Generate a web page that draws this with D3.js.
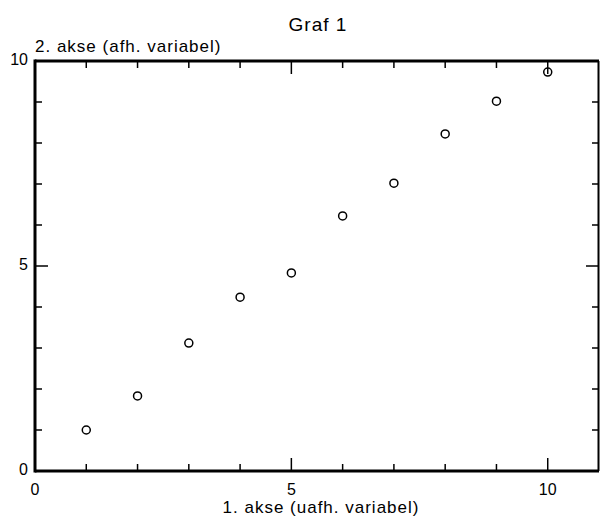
<!DOCTYPE html>
<html>
<head>
<meta charset="utf-8">
<script src="https://cdn.jsdelivr.net/npm/d3@7"></script>
<style>
  body { margin: 0; background: #fff; }
  svg { display: block; font-family: "Liberation Sans", Arial, sans-serif; }
</style>
</head>
<body>
<svg id="chart" width="600" height="516"></svg>
<script>
const xValues = [1, 2, 3, 4, 5, 6, 7, 8, 9, 10]
const yValues = [1.0, 1.83, 3.12, 4.24, 4.83, 6.22, 7.02, 8.22, 9.02, 9.73]
const majorTicks = [0, 5, 10]
const title = 'Graf 1'
const xTitle = '1. akse (uafh. variabel)'
const yTitle = '2. akse (afh. variabel)'

const margin = { left: 35, right: 1, top: 61, bottom: 45 }
const size = { width: 600, height: 516 }

const svg = d3.select('#chart')
const w = size.width - margin.left - margin.right
const h = size.height - margin.top - margin.bottom

const x = d3.scaleLinear().domain([0, 11]).range([margin.left, margin.left + w])
const y = d3.scaleLinear().domain([0, 10]).range([margin.top + h, margin.top])

const minorX = d3.range(1, 11)
const minorY = d3.range(1, 10)

// ticks, inward, on all four sides
const tickG = svg.append('g').attr('stroke', '#000').attr('stroke-width', 1.5)
const len = v => majorTicks.includes(v) ? 13 : 7
tickG.selectAll('.tb').data(minorX).join('line')
    .attr('x1', d => x(d)).attr('x2', d => x(d))
    .attr('y1', y(0)).attr('y2', d => y(0) - len(d))
tickG.selectAll('.tt').data(minorX).join('line')
    .attr('x1', d => x(d)).attr('x2', d => x(d))
    .attr('y1', y(10)).attr('y2', d => y(10) + len(d))
tickG.selectAll('.tl').data(minorY).join('line')
    .attr('x1', x(0)).attr('x2', d => x(0) + len(d))
    .attr('y1', d => y(d)).attr('y2', d => y(d))
tickG.selectAll('.tr').data(minorY).join('line')
    .attr('x1', x(11)).attr('x2', d => x(11) - len(d))
    .attr('y1', d => y(d)).attr('y2', d => y(d))

// frame
svg.append('line').attr('x1', x(0)).attr('x2', x(11)).attr('y1', y(0)).attr('y2', y(0))
    .attr('stroke', '#000').attr('stroke-width', 3)
svg.append('line').attr('x1', x(0)).attr('x2', x(11)).attr('y1', y(10)).attr('y2', y(10))
    .attr('stroke', '#000').attr('stroke-width', 3)
svg.append('line').attr('x1', x(0)).attr('x2', x(0)).attr('y1', y(0) + 1.5).attr('y2', y(10) - 1.5)
    .attr('stroke', '#000').attr('stroke-width', 3)
svg.append('line').attr('x1', x(11) - 0.5).attr('x2', x(11) - 0.5).attr('y1', y(0)).attr('y2', y(10))
    .attr('stroke', '#000').attr('stroke-width', 2)

// tick labels
svg.append('g').selectAll('text').data(majorTicks).join('text')
    .attr('x', d => x(d)).attr('y', y(0) + 24)
    .attr('text-anchor', 'middle').attr('font-size', 16)
    .text(d => d)
svg.append('g').selectAll('text').data(majorTicks).join('text')
    .attr('x', x(0) - 7).attr('y', d => y(d) + 4)
    .attr('text-anchor', 'end').attr('font-size', 16)
    .text(d => d)

// titles
svg.append('text').attr('x', 318).attr('y', 31).attr('text-anchor', 'middle')
    .attr('font-size', 19).attr('letter-spacing', 1).text(title)
svg.append('text').attr('x', x(0)).attr('y', y(10) - 9)
    .attr('font-size', 17).attr('letter-spacing', 1).text(yTitle)
svg.append('text').attr('x', 321).attr('y', y(0) + 42).attr('text-anchor', 'middle')
    .attr('font-size', 17).attr('letter-spacing', 1).text(xTitle)

// points
svg.append('g').selectAll('circle').data(xValues).join('circle')
    .attr('cx', d => x(d))
    .attr('cy', (d, i) => y(yValues[i]))
    .attr('r', 4)
    .attr('fill', 'none')
    .attr('stroke', '#000')
    .attr('stroke-width', 1.5)
</script>
</body>
</html>
